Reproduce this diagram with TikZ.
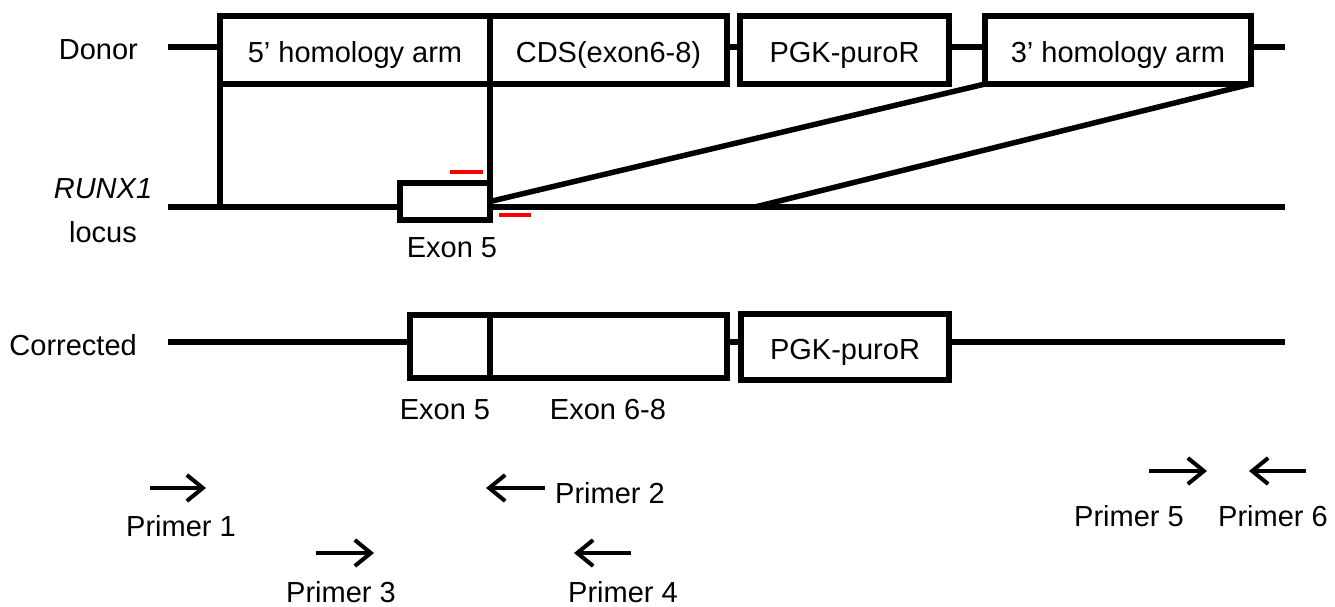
\documentclass[tikz,border=0pt]{standalone}
\usepackage{fontspec}
\setmainfont{Liberation Sans}
\usetikzlibrary{arrows.meta}
\begin{document}
\begin{tikzpicture}[x=1pt,y=-1pt,
  txt/.style={font=\fontsize{29}{44}\selectfont},
  box/.style={draw, line width=5.5pt, fill=white, inner sep=0pt, outer sep=0pt, txt, text height=25pt, text depth=0pt},
  lbl/.style={inner sep=0pt, txt},
  dna/.style={line width=5.5pt},
  primer/.style={line width=4pt, -{Straight Barb[length=16pt,width=26pt,line width=4pt]}},
  redmark/.style={red, line width=4.5pt}
]
\useasboundingbox (0,0) rectangle (1335,606);

% ---------- Donor ----------
\coordinate (dL) at (168,47);
\coordinate (dR) at (1285,47);
\node[box, minimum width=270pt, minimum height=68pt] (arm5) at (355,50) {5’ homology arm};
\node[box, minimum width=237pt, minimum height=68pt] (cds) at (608.5,50) {CDS(exon6-8)};
\node[box, minimum width=209pt, minimum height=68pt] (pgk) at (844.5,50) {PGK-puroR};
\node[box, minimum width=266pt, minimum height=68pt] (arm3) at (1118,50) {3’ homology arm};
\draw[dna] (dL) -- (dL -| arm5.west);
\draw[dna] (dL -| cds.east) -- (dL -| pgk.west);
\draw[dna] (dL -| pgk.east) -- (dL -| arm3.west);
\draw[dna] (dL -| arm3.east) -- (dR);
\node[lbl, anchor=east] (donor) at (138,50) {Donor};

% ---------- RUNX1 locus ----------
\coordinate (lL) at (168,207);
\coordinate (lR) at (1285,207);
\coordinate (join) at (755,207);
\node[box, minimum width=90pt, minimum height=37pt] (ex5) at (445,201.5) {};
\draw[dna] (lL) -- (lL -| ex5.west);
\draw[dna] (lL -| ex5.east) -- (lR);
\draw[dna] (arm5.south west) -- (arm5.south west |- lL);
\draw[dna] (arm5.south east) -- (ex5.north east);
\draw[dna] (ex5.east) -- (arm3.south west);
\draw[dna] (arm3.south east) -- (join);
\node[lbl] (ex5lbl) at (452,248) {Exon 5};
\node[lbl, align=center] (locus) at (103,211) {\itshape RUNX1\\locus};
\coordinate (r1a) at (450,172); \coordinate (r1b) at (483,172);
\coordinate (r2a) at (499,215); \coordinate (r2b) at (531,215);
\draw[redmark] (r1a) -- (r1b);
\draw[redmark] (r2a) -- (r2b);

% ---------- Corrected ----------
\coordinate (cL) at (168,342);
\coordinate (cR) at (1285,342);
\node[box, minimum width=80pt, minimum height=63pt] (cex5) at (450,346.5) {};
\node[box, minimum width=237pt, minimum height=63pt] (cex68) at (608.5,346.5) {};
\node[box, minimum width=208pt, minimum height=66pt] (cpgk) at (845,347) {PGK-puroR};
\draw[dna] (cL) -- (cL -| cex5.west);
\draw[dna] (cL -| cex68.east) -- (cL -| cpgk.west);
\draw[dna] (cL -| cpgk.east) -- (cR);
\node[lbl, anchor=east] (corr) at (137,345) {Corrected};
\node[lbl] (cex5lbl) at (445,410) {Exon 5};
\node[lbl] (cex68lbl) at (608,410) {Exon 6-8};

% ---------- Primers ----------
\coordinate (p1s) at (150,488); \coordinate (p1e) at (206,488);
\coordinate (p2s) at (545,488); \coordinate (p2e) at (486,488);
\coordinate (p3s) at (316,553); \coordinate (p3e) at (374,553);
\coordinate (p4s) at (631,553); \coordinate (p4e) at (574,553);
\coordinate (p5s) at (1149,471); \coordinate (p5e) at (1207,471);
\coordinate (p6s) at (1306,471); \coordinate (p6e) at (1249,471);
\draw[primer] (p1s) -- (p1e);
\draw[primer] (p2s) -- (p2e);
\draw[primer] (p3s) -- (p3e);
\draw[primer] (p4s) -- (p4e);
\draw[primer] (p5s) -- (p5e);
\draw[primer] (p6s) -- (p6e);
\node[lbl] (pl1) at (181,526) {Primer 1};
\node[lbl, anchor=west] (pl2) at (555,493) {Primer 2};
\node[lbl] (pl3) at (341,592) {Primer 3};
\node[lbl] (pl4) at (623,592) {Primer 4};
\node[lbl] (pl5) at (1129,516) {Primer 5};
\node[lbl] (pl6) at (1273,516) {Primer 6};
\end{tikzpicture}
\end{document}
